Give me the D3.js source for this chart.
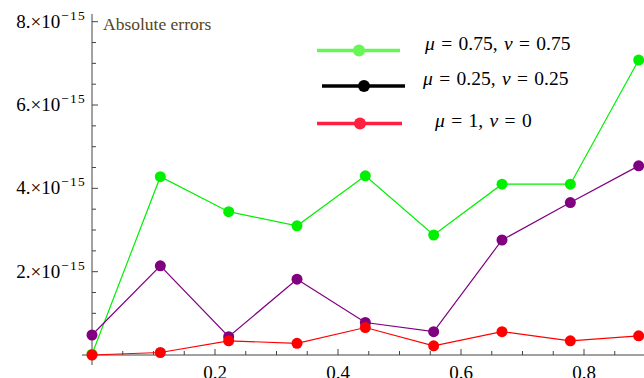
<!DOCTYPE html>
<html>
<head>
<meta charset="utf-8">
<script src="https://cdn.jsdelivr.net/npm/d3@7"></script>
<style>
  body { margin: 0; background: #fff; }
  svg { display: block; font-family: "Liberation Serif", "DejaVu Serif", serif; }
</style>
</head>
<body>
<svg id="chart" width="644" height="378"></svg>
<script>
// x positions are i/9, errors in units of 1e-15
var xs = [0, 1/9, 2/9, 3/9, 4/9, 5/9, 6/9, 7/9, 8/9]
var green = [0.02, 4.28, 3.44, 3.10, 4.30, 2.88, 4.10, 4.10, 7.08]
var purple = [0.48, 2.14, 0.44, 1.82, 0.78, 0.56, 2.76, 3.66, 4.54]
var red = [0.00, 0.06, 0.34, 0.28, 0.66, 0.22, 0.56, 0.34, 0.46]

var xTicks = [0.2, 0.4, 0.6, 0.8]
var yTicks = [2, 4, 6, 8]
var yLabels = ['2.×10', '4.×10', '6.×10', '8.×10']
var legendLabels = [
  [['μ', 1], [' = 0.75, ', 0], ['ν', 1], [' = 0.75', 0]],
  [['μ', 1], [' = 0.25, ', 0], ['ν', 1], [' = 0.25', 0]],
  [['μ', 1], [' = 1, ', 0], ['ν', 1], [' = 0', 0]]
]

var svg = d3.select('#chart')

var x = d3.scaleLinear().domain([0, 1]).range([92, 707])
var y = d3.scaleLinear().domain([0, 8]).range([355, 21.7])

// axes
var axisColor = '#444'
svg.append('line')
   .attr('x1', 82).attr('x2', 644)
   .attr('y1', y(0)).attr('y2', y(0))
   .attr('stroke', axisColor).attr('stroke-width', 1)
svg.append('line')
   .attr('x1', x(0)).attr('x2', x(0))
   .attr('y1', 14).attr('y2', 365)
   .attr('stroke', axisColor).attr('stroke-width', 1)

var xMinor = d3.range(0.05, 1.0, 0.05)
svg.selectAll('.xtick')
   .data(xMinor)
   .enter().append('line')
   .attr('x1', function (d) { return x(d) })
   .attr('x2', function (d) { return x(d) })
   .attr('y1', y(0))
   .attr('y2', function (d, i) { return y(0) - ((i + 1) % 4 === 0 ? 6 : 4) })
   .attr('stroke', axisColor)

var yMinor = d3.range(0.5, 8.01, 0.5)
svg.selectAll('.ytick')
   .data(yMinor)
   .enter().append('line')
   .attr('y1', function (d) { return y(d) })
   .attr('y2', function (d) { return y(d) })
   .attr('x1', x(0))
   .attr('x2', function (d, i) { return x(0) + ((i + 1) % 4 === 0 ? 6 : 4) })
   .attr('stroke', axisColor)

svg.selectAll('.xlabel')
   .data(xTicks)
   .enter().append('text')
   .attr('x', function (d) { return x(d) })
   .attr('y', 379)
   .attr('text-anchor', 'middle')
   .attr('font-size', 19)
   .text(function (d) { return d3.format('.1f')(d) })

var yl = svg.selectAll('.ylabel')
   .data(yTicks)
   .enter().append('text')
   .attr('x', 86)
   .attr('y', function (d) { return y(d) + 6 })
   .attr('text-anchor', 'end')
   .attr('font-size', 19)
yl.append('tspan').text(function (d, i) { return yLabels[i] })
yl.append('tspan')
  .attr('font-size', 13.5)
  .attr('dx', 1)
  .attr('dy', -8)
  .attr('letter-spacing', 1.2)
  .text('−15')

svg.append('text')
   .attr('x', 103).attr('y', 30)
   .attr('font-size', 17.5)
   .attr('fill', '#55441c')
   .text('Absolute errors')

// series
var series = [
  { values: green, color: '#00f000' },
  { values: purple, color: '#800080' },
  { values: red, color: '#ff0000' }
]

var line = d3.line()
             .x(function (d, i) { return x(xs[i]) })
             .y(function (d) { return y(d) })

series.forEach(function (s) {
  var g = svg.append('g')
  g.append('path')
   .attr('d', line(s.values))
   .attr('fill', 'none')
   .attr('stroke', s.color)
   .attr('stroke-width', 1.2)
  g.selectAll('circle')
   .data(s.values)
   .enter().append('circle')
   .attr('cx', function (d, i) { return x(xs[i]) })
   .attr('cy', function (d) { return y(d) })
   .attr('r', 5.5)
   .attr('fill', s.color)
})

// legend
var legend = [
  { color: '#66f655', x1: 317, x2: 400, mx: 359, ly: 50.5, tx: 425, ty: 50 },
  { color: '#000000', x1: 322, x2: 405, mx: 364, ly: 86, tx: 423, ty: 85 },
  { color: '#ff1f3f', x1: 317, x2: 402, mx: 360, ly: 123.5, tx: 435, ty: 127 }
]

legend.forEach(function (l, i) {
  svg.append('line')
     .attr('x1', l.x1).attr('x2', l.x2)
     .attr('y1', l.ly).attr('y2', l.ly)
     .attr('stroke', l.color).attr('stroke-width', 3.5)
  svg.append('circle')
     .attr('cx', l.mx).attr('cy', l.ly).attr('r', 6)
     .attr('fill', l.color)
  var t = svg.append('text')
     .attr('x', l.tx).attr('y', l.ty)
     .attr('font-size', 19.5)
     .attr('word-spacing', 1.5)
     .attr('xml:space', 'preserve')
     .style('white-space', 'pre')
  legendLabels[i].forEach(function (p) {
    t.append('tspan')
     .attr('font-style', p[1] ? 'italic' : null)
     .text(p[0])
  })
})
</script>
</body>
</html>
